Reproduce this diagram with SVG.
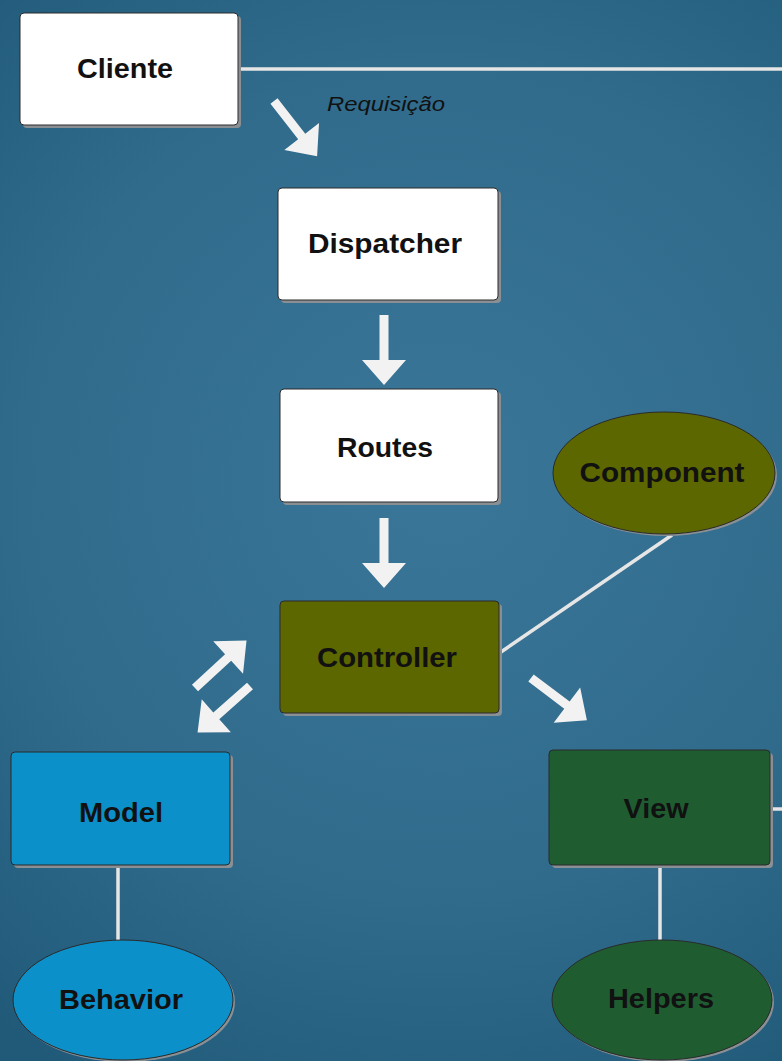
<svg xmlns="http://www.w3.org/2000/svg" width="782" height="1061" viewBox="0 0 782 1061">
<defs>
<radialGradient id="bg" cx="440" cy="480" r="700" gradientUnits="userSpaceOnUse">
<stop offset="0" stop-color="#3a7698"/>
<stop offset="0.6" stop-color="#306b8c"/>
<stop offset="1" stop-color="#215a79"/>
</radialGradient>
<path id="arr" d="M0,-4.5 L45,-4.5 L45,-22 L70,0 L45,22 L45,4.5 L0,4.5 Z"/>
</defs>
<style>
.sh{fill:#8a8f94}
.box{stroke:#2a2a2a;stroke-width:1}
.w{fill:#ffffff}
.ol{fill:#5c6700}
.bl{fill:#0b90c9}
.gr{fill:#1f5d31}
.t{font-family:"Liberation Sans",Arial,sans-serif;font-weight:bold;font-size:28px;fill:#111;text-anchor:middle}
.lab{font-family:"Liberation Sans",Arial,sans-serif;font-style:italic;font-size:21px;fill:#111}
.ln{stroke:#e6e6e6;stroke-width:3.5;fill:none}
.ar{fill:#f2f2f2}
</style>
<rect width="782" height="1061" fill="url(#bg)"/>

<g id="connectors">
<line class="ln" x1="238" y1="69" x2="782" y2="69"/>
<line class="ln" x1="501" y1="652" x2="672" y2="535"/>
<line class="ln" x1="770" y1="809" x2="782" y2="809"/>
<line class="ln" x1="118" y1="866" x2="118" y2="941"/>
<line class="ln" x1="660" y1="866" x2="660" y2="941"/>
<use href="#arr" class="ar" transform="translate(274,101) rotate(52)"/>
<use href="#arr" class="ar" transform="translate(384,315) rotate(90)"/>
<use href="#arr" class="ar" transform="translate(384,518) rotate(90)"/>
<use href="#arr" class="ar" transform="translate(195,688) rotate(-42.6)"/>
<use href="#arr" class="ar" transform="translate(250,686) rotate(138.5)"/>
<use href="#arr" class="ar" transform="translate(531,678) rotate(37)"/>
<text class="lab" x="327" y="111" textLength="118" lengthAdjust="spacingAndGlyphs">Requisição</text>
</g>

<g id="cliente">
<rect class="sh" x="23" y="16" width="218" height="112" rx="4"/>
<rect class="box w" x="20" y="13" width="218" height="112" rx="4"/>
<text class="t" x="125" y="78" textLength="96" lengthAdjust="spacingAndGlyphs">Cliente</text>
</g>

<g id="dispatcher">
<rect class="sh" x="281" y="191" width="220" height="112" rx="4"/>
<rect class="box w" x="278" y="188" width="220" height="112" rx="4"/>
<text class="t" x="385" y="253" textLength="154" lengthAdjust="spacingAndGlyphs">Dispatcher</text>
</g>

<g id="routes">
<rect class="sh" x="283" y="392" width="218" height="113" rx="4"/>
<rect class="box w" x="280" y="389" width="218" height="113" rx="4"/>
<text class="t" x="385" y="457" textLength="96" lengthAdjust="spacingAndGlyphs">Routes</text>
</g>

<g id="controller">
<rect class="sh" x="283" y="604" width="219" height="112" rx="4"/>
<rect class="box ol" x="280" y="601" width="219" height="112" rx="4"/>
<text class="t" x="387" y="667" textLength="140" lengthAdjust="spacingAndGlyphs">Controller</text>
</g>

<g id="component">
<ellipse class="sh" cx="666" cy="475" rx="111" ry="61"/>
<ellipse class="box ol" cx="664" cy="473" rx="111" ry="61"/>
<text class="t" x="662" y="482" textLength="165" lengthAdjust="spacingAndGlyphs">Component</text>
</g>

<g id="model">
<rect class="sh" x="14" y="755" width="219" height="113" rx="4"/>
<rect class="box bl" x="11" y="752" width="219" height="113" rx="4"/>
<text class="t" x="121" y="822" textLength="84" lengthAdjust="spacingAndGlyphs">Model</text>
</g>

<g id="behavior">
<ellipse class="sh" cx="125" cy="1002" rx="110" ry="60"/>
<ellipse class="box bl" cx="123" cy="1000" rx="110" ry="60"/>
<text class="t" x="121" y="1009" textLength="124" lengthAdjust="spacingAndGlyphs">Behavior</text>
</g>

<g id="view">
<rect class="sh" x="552" y="753" width="221" height="115" rx="4"/>
<rect class="box gr" x="549" y="750" width="221" height="115" rx="4"/>
<text class="t" x="656" y="818" textLength="65" lengthAdjust="spacingAndGlyphs">View</text>
</g>

<g id="helpers">
<ellipse class="sh" cx="664" cy="1002" rx="110" ry="60"/>
<ellipse class="box gr" cx="662" cy="1000" rx="110" ry="60"/>
<text class="t" x="661" y="1008" textLength="106" lengthAdjust="spacingAndGlyphs">Helpers</text>
</g>
</svg>
